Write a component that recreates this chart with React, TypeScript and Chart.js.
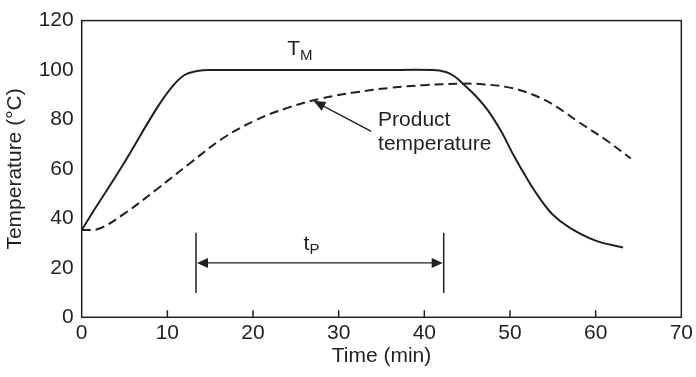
import React, { useEffect, useRef } from "react";
import { Chart, registerables } from "chart.js";

Chart.register(...registerables);

// ---- data ----
const xTickValues = [0, 10, 20, 30, 40, 50, 60, 70];
const yTickValues = [0, 20, 40, 60, 80, 100, 120];

const tmTime = [0, 1, 4.8, 8.7, 10.5, 12, 13.5, 15, 25, 35, 41, 42.5, 43.5, 44.5, 46, 47.5, 49, 50.5, 52, 53.5, 55, 57, 60, 63.2];
const tmTemp = [35.2, 40.9, 61.6, 84.2, 93, 98, 99.6, 100, 100, 100, 100, 99.2, 97.5, 94.5, 89.5, 83.3, 75, 65, 56, 48, 41.5, 36.2, 31, 28.2];

const productTime = [0, 2, 4.8, 8.7, 12.6, 16.4, 20.3, 24.2, 28, 32, 36, 40, 44.5, 47, 49.5, 51.5, 53.5, 55.5, 58, 61, 64.1];
const productTemp = [35.3, 35.8, 41.5, 51.6, 62.2, 72.2, 79.7, 84.9, 88.5, 91, 92.8, 93.9, 94.5, 94.2, 93.2, 91.5, 88.8, 85, 79, 72.2, 64.2];

// annotation anchors (data units)
const tpRange = [13.34, 42.26];
const tpArrowLevel = 22;
const tpBarSpan = [9.8, 34.2];
const tpLabel = { x: 25.9, y: 27.2, main: "t", sub: "P" };
const tmLabel = { x: 24.0, y: 106.2, main: "T", sub: "M" };
const productArrowTip = { x: 27.05, y: 87.6 };
const productArrowTail = { x: 33.8, y: 75.2 };
const productLabel = { x: 34.6, y: 77.3, lines: ["Product", "temperature"] };

const INK = "#231f20";
const FONT = "'Liberation Sans', Arial, Helvetica, sans-serif";
const FS = 21;

function arrowHead(ctx: CanvasRenderingContext2D, tx: number, ty: number, fx: number, fy: number, len: number, half: number) {
  const ang = Math.atan2(ty - fy, tx - fx);
  ctx.beginPath();
  ctx.moveTo(tx, ty);
  ctx.lineTo(tx - len * Math.cos(ang) + half * Math.sin(ang), ty - len * Math.sin(ang) - half * Math.cos(ang));
  ctx.lineTo(tx - len * Math.cos(ang) - half * Math.sin(ang), ty - len * Math.sin(ang) + half * Math.cos(ang));
  ctx.closePath();
  ctx.fill();
}

const annotations = {
  id: "annotations",
  afterDraw(chart: any) {
    const { ctx, chartArea } = chart;
    const { left, right, top, bottom } = chartArea;
    const xs = chart.scales.x;
    const ys = chart.scales.y;
    ctx.save();
    ctx.strokeStyle = INK;
    ctx.fillStyle = INK;
    // frame
    ctx.lineWidth = 1.5;
    ctx.strokeRect(left, top, right - left, bottom - top);
    // inward x ticks
    ctx.beginPath();
    xTickValues.forEach((v) => {
      if (v > xTickValues[0] && v < xTickValues[xTickValues.length - 1]) {
        const px = xs.getPixelForValue(v);
        ctx.moveTo(px, bottom);
        ctx.lineTo(px, bottom - 7);
      }
    });
    ctx.stroke();

    // tP dimension
    const xa = xs.getPixelForValue(tpRange[0]);
    const xb = xs.getPixelForValue(tpRange[1]);
    const yl = ys.getPixelForValue(tpBarSpan[0]);
    const yh = ys.getPixelForValue(tpBarSpan[1]);
    const ya = ys.getPixelForValue(tpArrowLevel);
    ctx.lineWidth = 1.5;
    ctx.beginPath();
    ctx.moveTo(xa, yl);
    ctx.lineTo(xa, yh);
    ctx.moveTo(xb, yl);
    ctx.lineTo(xb, yh);
    ctx.stroke();
    ctx.lineWidth = 1.3;
    ctx.beginPath();
    ctx.moveTo(xa + 8, ya);
    ctx.lineTo(xb - 8, ya);
    ctx.stroke();
    arrowHead(ctx, xa + 1, ya, xb, ya, 11, 5);
    arrowHead(ctx, xb - 1, ya, xa, ya, 11, 5);

    // product arrow
    const ptx = xs.getPixelForValue(productArrowTip.x);
    const pty = ys.getPixelForValue(productArrowTip.y);
    const pfx = xs.getPixelForValue(productArrowTail.x);
    const pfy = ys.getPixelForValue(productArrowTail.y);
    ctx.lineWidth = 1.3;
    ctx.beginPath();
    ctx.moveTo(pfx, pfy);
    ctx.lineTo(ptx + (pfx - ptx) * 0.15, pty + (pfy - pty) * 0.15);
    ctx.stroke();
    arrowHead(ctx, ptx, pty, pfx, pfy, 12, 5);

    // texts
    ctx.textBaseline = "alphabetic";
    ctx.textAlign = "left";
    const drawSub = (lab: { x: number; y: number; main: string; sub: string }, subDrop: number) => {
      const px = xs.getPixelForValue(lab.x);
      const py = ys.getPixelForValue(lab.y);
      ctx.font = `${FS}px ${FONT}`;
      ctx.fillText(lab.main, px, py);
      const w = ctx.measureText(lab.main).width;
      ctx.font = `15px ${FONT}`;
      ctx.fillText(lab.sub, px + w, py + subDrop);
    };
    drawSub(tmLabel, 5);
    drawSub(tpLabel, 4);

    ctx.font = `${FS}px ${FONT}`;
    const lx = xs.getPixelForValue(productLabel.x);
    const ly = ys.getPixelForValue(productLabel.y);
    productLabel.lines.forEach((t, i) => ctx.fillText(t, lx, ly + i * 24));
    ctx.restore();
  },
};

export default function App() {
  const ref = useRef<HTMLCanvasElement | null>(null);
  useEffect(() => {
    if (!ref.current) return;
    const toPts = (xs: number[], ys: number[]) => xs.map((x, i) => ({ x, y: ys[i] }));
    const chart = new Chart(ref.current, {
      type: "line",
      data: {
        datasets: [
          {
            label: "TM",
            data: toPts(tmTime, tmTemp),
            borderColor: INK,
            borderWidth: 2,
            pointRadius: 0,
            fill: false,
            tension: 0.4,
          },
          {
            label: "Product temperature",
            data: toPts(productTime, productTemp),
            borderColor: INK,
            borderWidth: 2,
            borderDash: [9, 5],
            pointRadius: 0,
            fill: false,
            tension: 0.4,
          },
        ],
      },
      options: {
        animation: false,
        responsive: true,
        maintainAspectRatio: false,
        layout: { padding: { top: 17.3, right: 11, left: 0, bottom: 0 } },
        plugins: { legend: { display: false }, tooltip: { enabled: false } },
        scales: {
          x: {
            type: "linear",
            min: 0,
            max: 70,
            afterBuildTicks: (s: any) => {
              s.ticks = xTickValues.map((v) => ({ value: v }));
            },
            afterFit: (s: any) => {
              s.height = 59.7;
            },
            ticks: { color: INK, font: { size: FS, family: FONT }, padding: 3, maxRotation: 0, autoSkip: false },
            grid: { display: false, drawTicks: false },
            border: { display: false },
            title: { display: true, text: "Time (min)", color: INK, font: { size: FS, family: FONT }, padding: { top: 0, bottom: 8 } },
          },
          y: {
            type: "linear",
            min: 0,
            max: 120,
            afterBuildTicks: (s: any) => {
              s.ticks = yTickValues.map((v) => ({ value: v }));
            },
            afterFit: (s: any) => {
              s.width = 81.7;
            },
            ticks: { color: INK, font: { size: FS, family: FONT }, padding: 8 },
            grid: { display: false, drawTicks: false },
            border: { display: false },
            title: { display: true, text: "Temperature (°C)", color: INK, font: { size: FS, family: FONT }, padding: { top: 3, bottom: 0 } },
          },
        },
      },
      plugins: [annotations],
    } as any);
    return () => chart.destroy();
  }, []);
  return (
    <div style={{ position: "fixed", left: 0, top: 0, width: 696, height: 377, background: "#fff" }}>
      <canvas ref={ref} />
    </div>
  );
}
